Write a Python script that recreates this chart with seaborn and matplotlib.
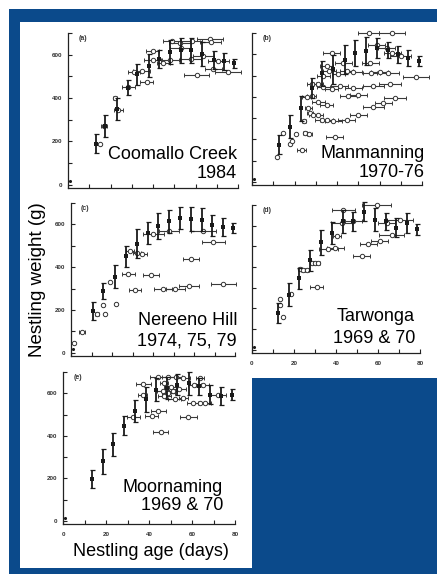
import matplotlib
matplotlib.use("Agg")
import matplotlib.pyplot as plt
import seaborn as sns
import pandas as pd
from matplotlib.patches import Rectangle

# ---------------- data (age in days, weight in g) ----------------
panel_ids = ["a", "b", "c", "d", "e"]
panel_names = [("Coomallo Creek", "1984"), ("Manmanning", "1970-76"),
               ("Nereeno Hill", "1974, 75, 79"), ("Tarwonga", "1969 & 70"),
               ("Moornaming", "1969 & 70")]
x_ticks = [0, 10, 20, 30, 40, 50, 60, 70, 80]
x_tick_labels = ["0", "", "20", "", "40", "", "60", "", "80"]
y_ticks = [0, 100, 200, 300, 400, 500, 600, 700]
y_tick_labels = ["0", "", "200", "", "400", "", "600", ""]
hatch_age = [1, 1, 1, 1, 1]
hatch_wt = [18, 15, 18, 15, 15]

# mean weight +/- SD per age class
a_mean_age = [13, 17.5, 23, 28, 32.5, 38, 43, 48, 53, 58, 63, 68.5, 73.5, 78]
a_mean_wt = [190, 270, 350, 447, 510, 550, 580, 612, 620, 620, 605, 575, 570, 560]
a_mean_sd = [43, 52, 50, 35, 48, 52, 42, 57, 57, 58, 55, 42, 40, 20]
b_mean_age = [12.9, 17.9, 23, 28, 33, 38.3, 43.8, 48.5, 53.6, 58.7, 63.9, 68.9, 73.6, 78.6]
b_mean_wt = [175, 260, 345, 440, 510, 530, 575, 607, 614, 630, 622, 599, 584, 568]
b_mean_sd = [46, 54, 57, 46, 57, 68, 68, 60, 65, 46, 38, 38, 38, 23]
c_mean_age = [10.6, 15.8, 21.5, 26.7, 32, 37.4, 42.6, 47.9, 53.2, 58.4, 63.7, 69, 74, 78.9]
c_mean_wt = [195, 290, 355, 450, 510, 560, 591, 615, 630, 626, 622, 596, 586, 584]
c_mean_sd = [42, 38, 53, 50, 68, 53, 61, 53, 53, 57, 53, 50, 42, 23]
d_mean_age = [12.2, 17.6, 22.5, 27.6, 32.9, 37.9, 43.2, 48.3, 53.3, 58.6, 63.6, 68.6, 73.7, 78.7]
d_mean_wt = [180, 266, 345, 432, 519, 566, 621, 621, 668, 629, 621, 590, 613, 582]
d_mean_sd = [48, 55, 52, 51, 60, 52, 55, 47, 47, 55, 40, 47, 47, 28]
e_mean_age = [13.3, 18.5, 23.4, 28.4, 33.5, 38.5, 43.3, 48.2, 53.2, 58.6, 63.3, 68.4, 73.3, 78.4]
e_mean_wt = [195, 279, 360, 448, 517, 571, 617, 625, 640, 648, 632, 594, 586, 594]
e_mean_sd = [43, 57, 53, 46, 53, 58, 54, 50, 50, 54, 42, 46, 42, 27]

# individual nestlings: weight with estimated age range (+/- days)
a_ind_age = [15, 17, 22.1, 23.7, 28.4, 31.1, 34.7, 37, 39.8, 39.8, 44.8, 48.8, 48, 52.7, 53,
             58.2, 57.7, 60.5, 63.7, 66.8, 67.1, 70.7, 75.4, 68.4]
a_ind_wt = [190, 272, 398, 345, 450, 521, 526, 473, 616, 576, 561, 661, 576, 654, 631,
            661, 579, 507, 594, 672, 657, 571, 518, 534]
a_ind_span = [0, 1.5, 1, 2, 3, 3, 4, 3, 3, 4, 3, 4, 4, 5, 5, 5, 5, 6, 5, 6, 5, 5, 6, 4]

b_ind_age = [11.6, 14.7, 17.9, 18.7, 20.7, 23.4, 25, 27, 24.5, 26.5, 27.3, 28.9, 31.2, 32.8,
             35.1, 38.3, 44.5, 50, 39, 25.7, 28, 31.2, 35.1, 45.3, 50, 57.1, 61.8, 67.3, 28,
             31.2, 33.6, 37.5, 41.4, 47.7, 57.1, 64.9, 33.6, 36.4, 40.6, 44.5, 47.7, 56.2,
             60.1, 64, 77.1, 35.1, 37.5, 42.9, 54.9, 65.9, 58.8, 63.5, 65.9, 69.9, 55.7]
b_ind_wt = [118, 230, 177, 192, 223, 149, 230, 227, 284, 345, 322, 312, 315, 292, 289, 287,
            292, 312, 210, 399, 404, 376, 361, 404, 407, 353, 369, 395, 460, 460, 445, 437,
            450, 440, 450, 460, 499, 522, 507, 522, 518, 514, 518, 511, 492, 545, 604, 560,
            699, 699, 645, 630, 607, 594, 560]
b_ind_span = [0, 0, 0, 0, 0.5, 2, 1, 1, 1, 1.5, 1.5, 2, 2, 3, 3, 4, 4, 4, 4, 2, 2, 3, 3, 4,
              4, 5, 4, 5, 2, 2, 3, 3, 4, 4, 5, 5, 3, 3, 3, 3, 4, 4, 4, 5, 6, 3, 4, 4, 5, 6,
              4, 4, 4, 5, 4]

c_ind_age = [1.5, 5.2, 12.5, 16.6, 15.8, 19, 22, 28.8, 32, 34.5, 28, 38.9, 31.2, 45, 50.9,
             57.6, 74.3, 58.5, 69.4, 47.9, 64.5, 40.2]
c_ind_wt = [45, 96, 183, 183, 222, 332, 226, 477, 465, 460, 370, 362, 294, 300, 300, 312,
            323, 439, 518, 569, 569, 553]
c_ind_span = [0, 1.5, 1, 0.5, 0.5, 0.5, 0.5, 2, 2, 2.5, 3, 4, 3, 4.5, 4.5, 5, 6, 4, 5.5, 5,
              6, 5]

d_ind_age = [13.3, 14.9, 13.5, 18.7, 22.8, 24.4, 26, 28.6, 30, 31.4, 30.8, 36.3, 40.5, 39.7,
             42.7, 43.5, 52.2, 55.4, 60.9, 66.5, 59.4, 64.1, 70.5, 48.3]
d_ind_wt = [215, 160, 245, 270, 393, 385, 385, 420, 420, 420, 303, 487, 550, 490, 613, 676,
            455, 510, 526, 557, 700, 613, 629, 621]
d_ind_span = [0.5, 0.5, 0.5, 0.5, 1, 1, 1, 1, 1, 1, 3, 4.5, 2, 4, 5, 5.5, 4, 4, 4, 6, 7, 4,
              6, 4]

e_ind_age = [32.7, 37.3, 37, 41.3, 44.3, 45.4, 44.3, 49, 52.5, 56, 47, 50, 46.5, 49, 51, 54,
             47, 52, 58.3, 60.6, 63.7, 66, 61, 65, 63.7, 72, 56]
e_ind_wt = [486, 643, 592, 494, 517, 418, 678, 675, 675, 670, 650, 630, 610, 600, 612, 620,
            585, 575, 486, 555, 555, 555, 640, 640, 670, 590, 580]
e_ind_span = [3, 3.5, 2, 3, 3.5, 3.5, 4, 3, 3, 3, 2, 3, 3, 3, 2, 3, 3, 3, 4, 3, 3, 3, 3, 3,
              2, 4, 2]

means = {"a": (a_mean_age, a_mean_wt, a_mean_sd), "b": (b_mean_age, b_mean_wt, b_mean_sd),
         "c": (c_mean_age, c_mean_wt, c_mean_sd), "d": (d_mean_age, d_mean_wt, d_mean_sd),
         "e": (e_mean_age, e_mean_wt, e_mean_sd)}
inds = {"a": (a_ind_age, a_ind_wt, a_ind_span), "b": (b_ind_age, b_ind_wt, b_ind_span),
        "c": (c_ind_age, c_ind_wt, c_ind_span), "d": (d_ind_age, d_ind_wt, d_ind_span),
        "e": (e_ind_age, e_ind_wt, e_ind_span)}

# ---------------- layout (pixels) ----------------
W, H = 437, 574
boxes = {"a": (68, 238, 33, 188), "b": (252, 422, 33, 185), "c": (71, 235, 203, 356),
         "d": (252, 420, 205, 353), "e": (63, 235, 372, 524)}
name_pos = {"a": (237, 159, 178), "b": (425, 158, 177), "c": (237, 325, 345),
            "d": (415, 321, 343), "e": (223, 492, 510)}
show_y = {"a": True, "b": False, "c": True, "d": False, "e": True}
show_x = {"a": False, "b": False, "c": False, "d": True, "e": True}

sns.set_theme(style="ticks")
plt.rcParams["font.family"] = ["Liberation Sans", "DejaVu Sans"]

fig = plt.figure(figsize=(W / 100, H / 100), dpi=100)
fig.patch.set_facecolor("white")
BLUE = "#0b4a8b"


def rect(x0, y0, x1, y1, color):
    fig.patches.append(Rectangle((x0 / W, 1 - y1 / H), (x1 - x0) / W, (y1 - y0) / H,
                                 transform=fig.transFigure, facecolor=color,
                                 edgecolor="none", zorder=-10))


rect(9, 9, W, H, BLUE)
rect(20, 22, W, 378, "white")
rect(20, 22, 252, 568, "white")

INK = "#1a1a1a"
for i, pid in enumerate(panel_ids):
    l, r, t, b = boxes[pid]
    ax = fig.add_axes([l / W, 1 - b / H, (r - l) / W, (b - t) / H])
    ax.set_facecolor("none")
    ax.set_xlim(0, 80)
    ax.set_ylim(-15, 700)

    ia, iw, isp = inds[pid]
    ax.errorbar(ia, iw, xerr=isp, fmt="none", ecolor="#3a3a3a", elinewidth=0.8,
                capsize=1.3, capthick=0.7, zorder=2, clip_on=False)
    df_i = pd.DataFrame({"age": ia, "wt": iw})
    sns.scatterplot(data=df_i, x="age", y="wt", ax=ax, marker="o", s=10,
                    facecolor="white", edgecolor="#333333", linewidth=0.7,
                    zorder=3, legend=False, clip_on=False)

    ma, mw, ms = means[pid]
    ax.errorbar(ma, mw, yerr=ms, fmt="none", ecolor=INK, elinewidth=1.3,
                capsize=1.8, capthick=0.9, zorder=4, clip_on=False)
    df_m = pd.DataFrame({"age": ma, "wt": mw})
    sns.scatterplot(data=df_m, x="age", y="wt", ax=ax, marker="s", s=5,
                    color=INK, linewidth=0, zorder=5, legend=False, clip_on=False)
    sns.scatterplot(x=[hatch_age[i]], y=[hatch_wt[i]], ax=ax, marker="o", s=5,
                    color=INK, linewidth=0, zorder=5, legend=False)

    ax.set_xlabel("")
    ax.set_ylabel("")
    sns.despine(ax=ax)
    for s in ("left", "bottom"):
        ax.spines[s].set_linewidth(0.9)
        ax.spines[s].set_color("#222222")
    ax.set_xticks(x_ticks)
    ax.set_yticks(y_ticks)
    ax.set_xticklabels(x_tick_labels if show_x[pid] else [""] * len(x_ticks),
                       fontsize=4.5, fontweight="bold", color="#333333")
    ax.set_yticklabels(y_tick_labels if show_y[pid] else [""] * len(y_ticks),
                       fontsize=4.5, fontweight="bold", color="#333333")
    ax.tick_params(direction="in", length=3, width=0.8, color="#222222")
    ax.tick_params(axis="x", pad=6)
    ax.tick_params(axis="y", pad=4)
    ax.text(7, 675, "(" + pid + ")", fontsize=5, fontweight="bold", color="#333333",
            ha="center", va="center")

    xr, yb1, yb2 = name_pos[pid]
    fig.text(xr / W, 1 - yb1 / H, panel_names[i][0], ha="right", va="baseline",
             fontsize=13, color="black")
    fig.text(xr / W, 1 - yb2 / H, panel_names[i][1], ha="right", va="baseline",
             fontsize=13, color="black")

fig.text(37.5 / W, 1 - 280 / H, "Nestling weight (g)", rotation=90, ha="center",
         va="center", fontsize=13.5, color="black")
fig.text(151 / W, 1 - 556 / H, "Nestling age (days)", ha="center", va="baseline",
         fontsize=13, color="black")

fig.savefig("out.png", dpi=100, facecolor=fig.get_facecolor())
